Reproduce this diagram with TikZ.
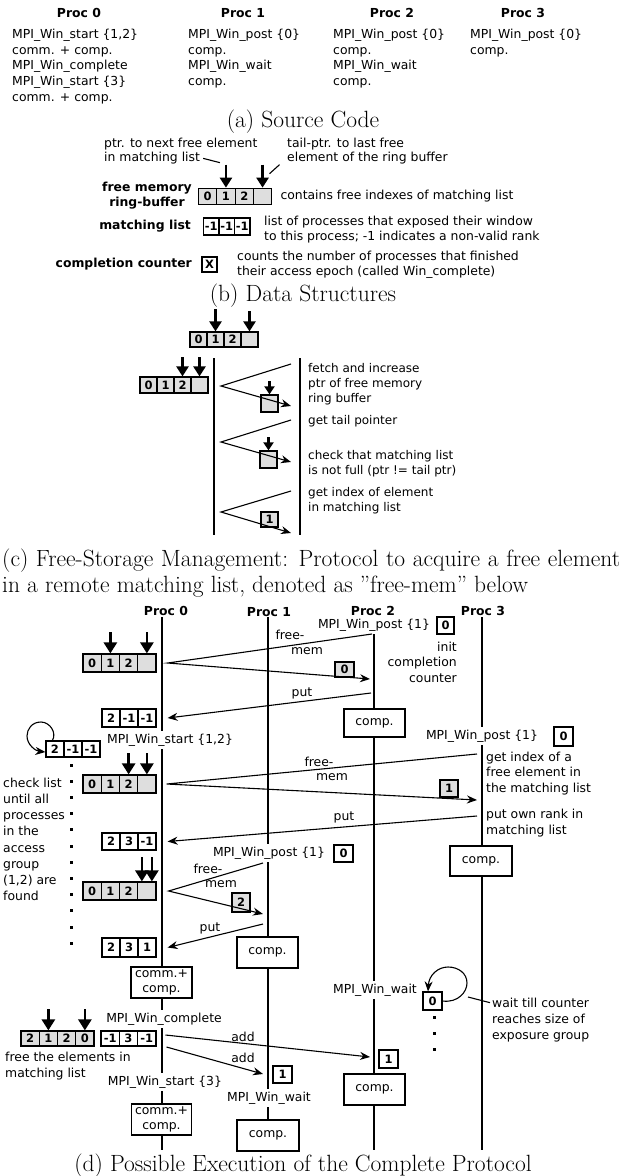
\documentclass[tikz,border=0pt]{standalone}
\usepackage{fontspec}
\newfontfamily\dv{DejaVu Sans}
\usetikzlibrary{arrows.meta}
\definecolor{cellgray}{gray}{0.87}
\newcommand\szd{\fontsize{12.4}{15}\selectfont}
\newcommand\szc{\fontsize{12}{15}\selectfont}
\newcommand\szcap{\fontsize{23.5}{28}\selectfont}
\tikzset{
  sanstxt/.style={font=\dv\szd, inner sep=0pt},
  sansc/.style={font=\dv\szc, inner sep=0pt},
  sansbold/.style={font=\dv\bfseries\szd, inner sep=0pt},
  sanswhite/.style={sanstxt, fill=white, inner xsep=1pt, inner ysep=3pt},
  captxt/.style={font=\szcap, inner sep=0pt},
  gcell/.style={draw, line width=1.2pt, fill=cellgray, inner sep=0pt, font=\dv\bfseries\fontsize{11.5}{12}\selectfont},
  wcell/.style={gcell, fill=white},
  ptrarrow/.style={line width=2.4pt, -{Triangle[length=10pt,width=12pt]}},
  ptrbig/.style={line width=2.6pt, -{Triangle[length=11pt,width=13pt]}},
  ptrsmall/.style={line width=2.2pt, -{Triangle[length=8pt,width=10pt]}},
  msgarrow/.style={line width=1.1pt, -{Stealth[length=10pt,width=8pt]}},
  thinline/.style={line width=1.1pt},
  lifeline/.style={line width=1.4pt},
  procbox/.style={draw, line width=1.3pt, fill=white, font=\dv\szd, inner sep=0pt, align=center},
  sqdot/.style={fill=black, minimum size=3pt, inner sep=0pt},
}
% #1 name, #2 left x, #3 centre y, #4 cell width, #5 cell height, #6 style, #7 labels
\newcommand\cellrow[7]{%
  \foreach \mylab [count=\k] in {#7} {
    \node[#6, minimum width=#4pt, minimum height=#5pt] (#1\k) at ({#2+(\k-0.5)*#4}, #3) {\mylab};
  }%
}
% [#1 anchor] #2 style, #3 name, #4 x, #5 first baseline, #6 step, #7 lines
\newcommand\textlines[7][base west]{%
  \foreach \mytl [count=\k] in {#7} {
    \node[#2, anchor=#1] (#3\k) at (#4, {#5+(\k-1)*#6}) {\mytl};
  }%
}
\begin{document}
\begin{tikzpicture}[x=1pt,y=-1pt]
\path[use as bounding box] (0,0) rectangle (634,1176);

%% ---------------- (a) Source code
\node[sansbold] (ah0) at (79,13) {Proc 0};
\node[sansbold] (ah1) at (243,13) {Proc 1};
\node[sansbold] (ah2) at (392,13) {Proc 2};
\node[sansbold] (ah3) at (523,13) {Proc 3};
\textlines{sanstxt}{asa}{12}{38.3}{15.75}{{MPI\_Win\_start \{1,2\}},{comm. + comp.},{MPI\_Win\_complete},{MPI\_Win\_start \{3\}},{comm. + comp.}}
\textlines{sanstxt}{asb}{188}{38.3}{15.75}{{MPI\_Win\_post \{0\}},{comp.},{MPI\_Win\_wait},{comp.}}
\textlines{sanstxt}{asc}{333}{38.3}{15.75}{{MPI\_Win\_post \{0\}},{comp.},{MPI\_Win\_wait},{comp.}}
\textlines{sanstxt}{asd}{470}{38.3}{15.75}{{MPI\_Win\_post \{0\}},{comp.}}
\node[captxt, anchor=base] (capa) at (303,127) {(a) Source Code};

%% ---------------- (b) Data structures
\textlines{sanstxt}{bp}{104}{147.3}{14.5}{{ptr. to next free element},{in matching list}}
\textlines{sanstxt}{bt}{287}{147.3}{14.5}{{tail-ptr. to last free},{element of the ring buffer}}
\cellrow{rb}{198.5}{196.5}{18.3}{16.5}{gcell}{0,1,2,{}}
\draw[ptrarrow] ([yshift=23pt]rb2.north) -- (rb2.north);
\draw[ptrarrow] ([yshift=23pt]rb4.north) -- (rb4.north);
\draw[thinline] ([xshift=3pt]bp2.east) -- ([xshift=-6pt,yshift=25pt]rb2.north);
\draw[thinline] ([xshift=7pt,yshift=14pt]rb4.north) -- ([xshift=17pt,yshift=23pt]rb4.north);
\node[sansbold, align=center] (fmrb) at (147,196) {free memory\\ring-buffer};
\node[sanstxt, anchor=west] (bc1) at ([xshift=8pt]rb4.east) {contains free indexes of matching list};
\node[sansbold, anchor=east] (mll) at (191,226.5) {matching list};
\cellrow{ml}{203.5}{226.5}{15.5}{17}{wcell}{-1,-1,-1}
\textlines{sanstxt}{bl}{264}{225.5}{14.5}{{list of processes that exposed their window},{to this process; -1 indicates a non-valid rank}}
\node[sansbold, anchor=east] (ccl) at (192,264.5) {completion counter};
\node[wcell, minimum width=15pt, minimum height=15pt] (xb) at (209.5,264.5) {X};
\textlines{sanstxt}{bk}{237}{260.5}{14.5}{{counts the number of processes that finished},{their access epoch (called Win\_complete)}}
\node[captxt, anchor=base] (capb) at (303,301) {(b) Data Structures};

%% ---------------- (c) Free-storage management
\cellrow{cA}{190}{339.5}{17}{15}{gcell}{0,1,2,{}}
\draw[ptrarrow] ([yshift=22pt]cA2.north) -- (cA2.north);
\draw[ptrarrow] ([yshift=20pt]cA4.north) -- (cA4.north);
\cellrow{cB}{140}{385}{17}{16}{gcell}{0,1,2,{}}
\draw[ptrarrow] ([yshift=19pt]cB3.north) -- (cB3.north);
\draw[ptrarrow] ([yshift=19pt]cB4.north) -- (cB4.north);
\coordinate (cl1t) at (214,358); \coordinate (cl1b) at (214,535);
\coordinate (cl2t) at (300,358); \coordinate (cl2b) at (300,535);
\draw[lifeline] (cl1t) -- (cl1b);
\draw[lifeline] (cl2t) -- (cl2b);
\node[gcell, minimum width=17pt, minimum height=17pt] (cx1) at (269.5,403.5) {};
\node[gcell, minimum width=17pt, minimum height=17pt] (cx2) at (268.5,459.5) {};
\node[gcell, minimum width=17pt, minimum height=15pt] (cx3) at (269.5,519.5) {1};
\draw[ptrsmall] ([yshift=13pt]cx1.north) -- (cx1.north);
\draw[ptrsmall] ([yshift=13pt]cx2.north) -- (cx2.north);
\coordinate (v1a) at (291,364); \coordinate (v1b) at (221,386); \coordinate (v1c) at (291,406);
\coordinate (v2a) at (291,420); \coordinate (v2b) at (221,442); \coordinate (v2c) at (291,462);
\coordinate (v3a) at (291,491); \coordinate (v3b) at (221,512); \coordinate (v3c) at (291,533);
\draw[msgarrow] (v1a) -- (v1b) -- (v1c);
\draw[msgarrow] (v2a) -- (v2b) -- (v2c);
\draw[msgarrow] (v3a) -- (v3b) -- (v3c);
\textlines{sansc}{cta}{308}{372.3}{15}{{fetch and increase},{ptr of free memory},{ring buffer}}
\node[sansc, anchor=base west] (ctb) at (308,424.3) {get tail pointer};
\textlines{sansc}{ctc}{308}{459.3}{15.5}{{check that matching list},{is not full (ptr != tail ptr)}}
\textlines{sansc}{ctd}{308}{496.3}{15}{{get index of element},{in matching list}}
\node[captxt, anchor=base west] (capc1) at (2,566) {\makebox[618pt][s]{(c) Free-Storage Management: Protocol to acquire a free element}};
\node[captxt, anchor=base west] (capc2) at (2,592) {in a remote matching list, denoted as ''free-mem'' below};

%% ---------------- (d) Complete protocol
\coordinate (L0t) at (162,617); \coordinate (L0b) at (162,1150);
\coordinate (L1t) at (268,617); \coordinate (L1b) at (268,1150);
\coordinate (L2t) at (374,630); \coordinate (L2b) at (374,1150);
\coordinate (L3t) at (482,617); \coordinate (L3b) at (482,1150);
\draw[lifeline] (L0t) -- (L0b);
\draw[lifeline] (L1t) -- (L1b);
\draw[lifeline] (L2t) -- (L2b);
\draw[lifeline] (L3t) -- (L3b);
\node[sansbold] (dh0) at (166,611) {Proc 0};
\node[sansbold] (dh1) at (269,612) {Proc 1};
\node[sansbold] (dh2) at (373,611) {Proc 2};
\node[sansbold] (dh3) at (483,611) {Proc 3};

% texts on lifelines (mask the line)
\node[sanswhite] (wp2) at (374,625) {MPI\_Win\_post \{1\}};
\node[sanswhite] (ws0) at (170,740) {MPI\_Win\_start \{1,2\}};
\node[sanswhite] (wp3) at (482,736) {MPI\_Win\_post \{1\}};
\node[sanswhite] (wp1) at (269,853) {MPI\_Win\_post \{1\}};
\node[sanswhite] (ww2) at (375,990) {MPI\_Win\_wait};
\node[sanswhite] (wc0) at (164,1019) {MPI\_Win\_complete};
\node[sanswhite] (ws3) at (165,1082) {MPI\_Win\_start \{3\}};
\node[sanswhite] (ww1) at (269,1098) {MPI\_Win\_wait};

% counters
\node[wcell, minimum width=17pt, minimum height=17pt] (cz2) at (445.5,625.5) {0};
\node[wcell, minimum width=19pt, minimum height=19pt] (cz3) at (563.5,736.5) {0};
\node[wcell, minimum width=19pt, minimum height=17pt] (cz1) at (343.5,853.5) {0};
\node[wcell, minimum width=19pt, minimum height=18pt] (wb0) at (432.5,1001) {0};
\node[wcell, minimum width=19pt, minimum height=18pt] (co2) at (388.5,1059) {1};
\node[wcell, minimum width=19pt, minimum height=17pt] (co1) at (282.5,1074.5) {1};

% process boxes
\node[procbox, minimum width=61pt, minimum height=28pt] (pc2a) at (374.5,723) {comp.};
\node[procbox, minimum width=62pt, minimum height=30pt] (pc3a) at (481,861) {comp.};
\node[procbox, minimum width=61pt, minimum height=31pt] (pc1a) at (267.5,952.5) {comp.};
\node[procbox, minimum width=61pt, minimum height=31pt] (pc0a) at (161.5,982.5) {comm.+\\comp.};
\node[procbox, minimum width=61pt, minimum height=31pt] (pc2b) at (374.5,1089.5) {comp.};
\node[procbox, minimum width=60pt, minimum height=31pt] (pc0b) at (161.5,1119.5) {comm.+\\comp.};
\node[procbox, minimum width=62pt, minimum height=31pt] (pc1b) at (268,1135.5) {comp.};

% first free-mem (Proc 0 -> Proc 2)
\cellrow{dA}{83}{663}{18.25}{18}{gcell}{0,1,2,{}}
\draw[ptrbig] ([yshift=21pt]dA2.north) -- (dA2.north);
\draw[ptrbig] ([yshift=21pt]dA4.north) -- (dA4.north);
\node[gcell, minimum width=19pt, minimum height=15pt] (gz2) at (344.5,669.5) {0};
\coordinate (mA1) at (372,634); \coordinate (apA) at ([xshift=11pt]dA4.east); \coordinate (mA2) at (370,679);
\draw[msgarrow] (mA1) -- (apA) -- (mA2);
\node[sanstxt] (fa1) at (290,635) {free-};
\node[sanstxt] (fa2) at (307,651) {mem};
\textlines[base east]{sanstxt}{ini}{457}{651.3}{15.5}{{init},{completion},{counter}}
\cellrow{dB}{102}{718}{18}{18}{wcell}{2,-1,-1}
\coordinate (mA3) at (371,693);
\draw[msgarrow] (mA3) -- ([xshift=11pt]dB3.east);
\node[sanstxt] (pa) at (302,693) {put};

% loop on own list
\cellrow{dC}{46}{749}{18}{16}{wcell}{2,-1,-1}
\coordinate (lpS) at ([xshift=7pt]dC1.north west);
\coordinate (lpE) at ([yshift=-3pt]dC1.west);
\draw[msgarrow] (lpS) .. controls (57,733) and (50,722) .. (41,722) .. controls (32,722) and (27,729) .. (27,736) .. controls (27,745) and (36,751) .. (lpE);
\foreach \k in {0,...,11} \node[sqdot] (dd\k) at (71,{765+16.2*\k}) {};
\textlines{sanstxt}{ck}{3}{787.3}{16.2}{{check list},{until all},{processes},{in the},{access},{group},{(1,2) are},{found}}

% second free-mem (Proc 3 -> Proc 0)
\cellrow{dD}{83}{784}{18.25}{18}{gcell}{0,1,2,{}}
\draw[ptrbig] ([yshift=21pt]dD3.north) -- (dD3.north);
\draw[ptrbig] ([yshift=21pt]dD4.north) -- (dD4.north);
\node[gcell, minimum width=18pt, minimum height=17pt] (gz3) at (449,788.5) {1};
\coordinate (mB1) at (477,754); \coordinate (apB) at ([xshift=10pt]dD4.east); \coordinate (mB2) at (477,800);
\draw[msgarrow] (mB1) -- (apB) -- (mB2);
\node[sanstxt] (fb1) at (319,762) {free-};
\node[sanstxt] (fb2) at (332,777) {mem};
\cellrow{dE}{102}{841.5}{18}{17}{wcell}{2,3,-1}
\coordinate (mB3) at (477,816);
\draw[msgarrow] (mB3) -- ([xshift=11pt]dE3.east);
\node[sanstxt] (pb) at (344,817) {put};
\textlines{sanstxt}{gi}{486}{761.3}{15.5}{{get index of a},{free element in},{the matching list}}
\textlines{sanstxt}{po}{486}{818.3}{16}{{put own rank in},{matching list}}

% third free-mem (Proc 1 -> Proc 0)
\cellrow{dF}{83}{891}{18.25}{18}{gcell}{0,1,2,{}}
\draw[ptrbig] ([xshift=-5pt,yshift=24pt]dF4.north) -- ([xshift=-5pt]dF4.north);
\draw[ptrbig] ([xshift=5pt,yshift=24pt]dF4.north) -- ([xshift=5pt]dF4.north);
\node[gcell, minimum width=18pt, minimum height=19pt] (gz1) at (241,902.5) {2};
\coordinate (mC1) at (263,863); \coordinate (apC) at ([xshift=12pt]dF4.east); \coordinate (mC2) at (263,914);
\draw[msgarrow] (mC1) -- (apC) -- (mC2);
\node[sanstxt] (fc1) at (208,869) {free-};
\node[sanstxt] (fc2) at (221,884) {mem};
\cellrow{dG}{102}{947.5}{18}{19}{wcell}{2,3,1}
\coordinate (mC3) at (263,924);
\draw[msgarrow] (mC3) -- ([xshift=11pt]dG3.east);
\node[sanstxt] (pc) at (210,928) {put};

% wait loop on Proc 2
\coordinate (wlE) at ([xshift=-4.5pt]wb0.north);
\draw[msgarrow] (wb0.east) .. controls (458,1003) and (467,992) .. (467,983) .. controls (467,973) and (458,967) .. (448,967) .. controls (438,967) and (429,975) .. (wlE);
\foreach \k in {0,1,2} \node[sqdot] (wd\k) at (434,{1017+16*\k}) {};
\textlines{sanstxt}{wt}{492}{1007.3}{16}{{wait till counter},{reaches size of},{exposure group}}
\coordinate (wlR) at (468,997);
\draw[thinline] (wlR) -- ([xshift=-2pt]wt1.west);

% complete
\cellrow{dH}{21}{1038.5}{18.25}{15}{gcell}{2,1,2,0}
\draw[ptrbig] ([yshift=21pt]dH2.north) -- (dH2.north);
\draw[ptrbig] ([yshift=21pt]dH4.north) -- (dH4.north);
\cellrow{dI}{101}{1038.5}{18.3}{15}{wcell}{-1,3,-1}
\textlines{sanstxt}{fe}{5}{1061.3}{16}{{free the elements in},{matching list}}
\coordinate (mD1) at (370,1057); \coordinate (mD2) at (263,1074);
\draw[msgarrow] ([xshift=9pt,yshift=3.5pt]dI3.east) -- (mD1);
\draw[msgarrow] ([xshift=10pt,yshift=-8.5pt]dI3.east) -- (mD2);
\node[sanstxt] (ad1) at (243,1037) {add};
\node[sanstxt] (ad2) at (243,1058) {add};

\node[captxt, anchor=base] (capd) at (303,1171) {(d) Possible Execution of the Complete Protocol};
\end{tikzpicture}
\end{document}
